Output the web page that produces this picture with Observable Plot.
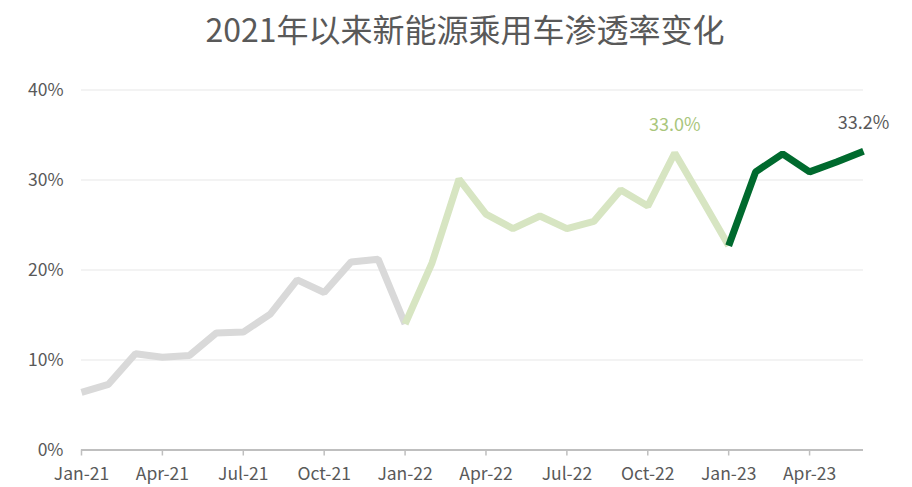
<!DOCTYPE html>
<html>
<head>
<meta charset="utf-8">
<script src="https://cdn.jsdelivr.net/npm/d3@7"></script>
<script src="https://cdn.jsdelivr.net/npm/@observablehq/plot@0.6"></script>
<style>
  html, body { margin: 0; padding: 0; background: #fff; }
  #title { height: 60px; width: 912px; box-sizing: border-box; padding-left: 18px; text-align: center;
    font-family: "Noto Sans CJK SC", sans-serif; font-size: 32px; color: #595959; line-height: 56px; }
  #chart svg { display: block; }
</style>
</head>
<body>
<div id="title">2021年以来新能源乘用车渗透率变化</div>
<div id="chart"></div>
<script>
const months = ["Jan-21","Feb-21","Mar-21","Apr-21","May-21","Jun-21","Jul-21","Aug-21","Sep-21","Oct-21","Nov-21","Dec-21",
  "Jan-22","Feb-22","Mar-22","Apr-22","May-22","Jun-22","Jul-22","Aug-22","Sep-22","Oct-22","Nov-22","Dec-22",
  "Jan-23","Feb-23","Mar-23","Apr-23","May-23","Jun-23"];
const penetration = [6.4, 7.3, 10.7, 10.3, 10.5, 13.0, 13.1, 15.1, 18.9, 17.5, 20.9, 21.2,
  14.0, 20.8, 30.1, 26.2, 24.6, 26.0, 24.6, 25.4, 28.9, 27.1, 33.0, 27.9,
  22.7, 30.9, 32.9, 30.9, 32.0, 33.2];
const segmentNames = ["2021", "2022", "2023"];
const segmentStart = [0, 12, 24];
const segmentEnd = [12, 24, 29];
const segmentColors = ["#d9d9d9", "#d7e5c2", "#006a2e"];
const yTicks = [0, 10, 20, 30, 40];
const xTicks = [0, 3, 6, 9, 12, 15, 18, 21, 24, 27];
const annotated = [22, 29];
const annotationColors = ["#a9c67c", "#595959"];

const rows = [];
segmentNames.forEach((s, k) => {
  for (let i = segmentStart[k]; i <= segmentEnd[k]; i++) rows.push({seg: s, i, v: penetration[i]});
});
const notes = annotated.map((i, k) => ({i, v: penetration[i], text: penetration[i].toFixed(1) + "%", color: annotationColors[k]}));

const chart = Plot.plot({
  width: 912,
  height: 427,
  marginTop: 29.5,
  marginBottom: 37.5,
  marginLeft: 81,
  marginRight: 49,
  style: {fontFamily: "'Noto Sans CJK SC', sans-serif", fontSize: "17.5px", color: "#595959", background: "#fff"},
  x: {domain: [0, 29]},
  y: {domain: [0, 40]},
  color: {domain: segmentNames, range: segmentColors},
  marks: [
    Plot.gridY(yTicks.filter(d => d > 0), {stroke: "#efefef", strokeOpacity: 1, strokeWidth: 1.5}),
    Plot.axisY({ticks: yTicks, tickSize: 0, tickPadding: 18, tickFormat: d => d + "%", label: null, fill: "#595959"}),
    Plot.axisX({ticks: xTicks, tickSize: 6, tickPadding: 12, tickFormat: i => months[i], label: null, stroke: "#bfbfbf", fill: "#595959", strokeWidth: 1.5}),
    Plot.ruleY([0], {stroke: "#bfbfbf", strokeWidth: 2}),
    Plot.line(rows, {x: "i", y: "v", z: "seg", stroke: "seg", strokeWidth: 7, strokeLinejoin: "miter", strokeLinecap: "butt"}),
    Plot.text(notes, {x: "i", y: "v", text: "text", fill: d => d.color, dy: -28, fontSize: 18})
  ]
});
document.getElementById("chart").appendChild(chart);
</script>
</body>
</html>
